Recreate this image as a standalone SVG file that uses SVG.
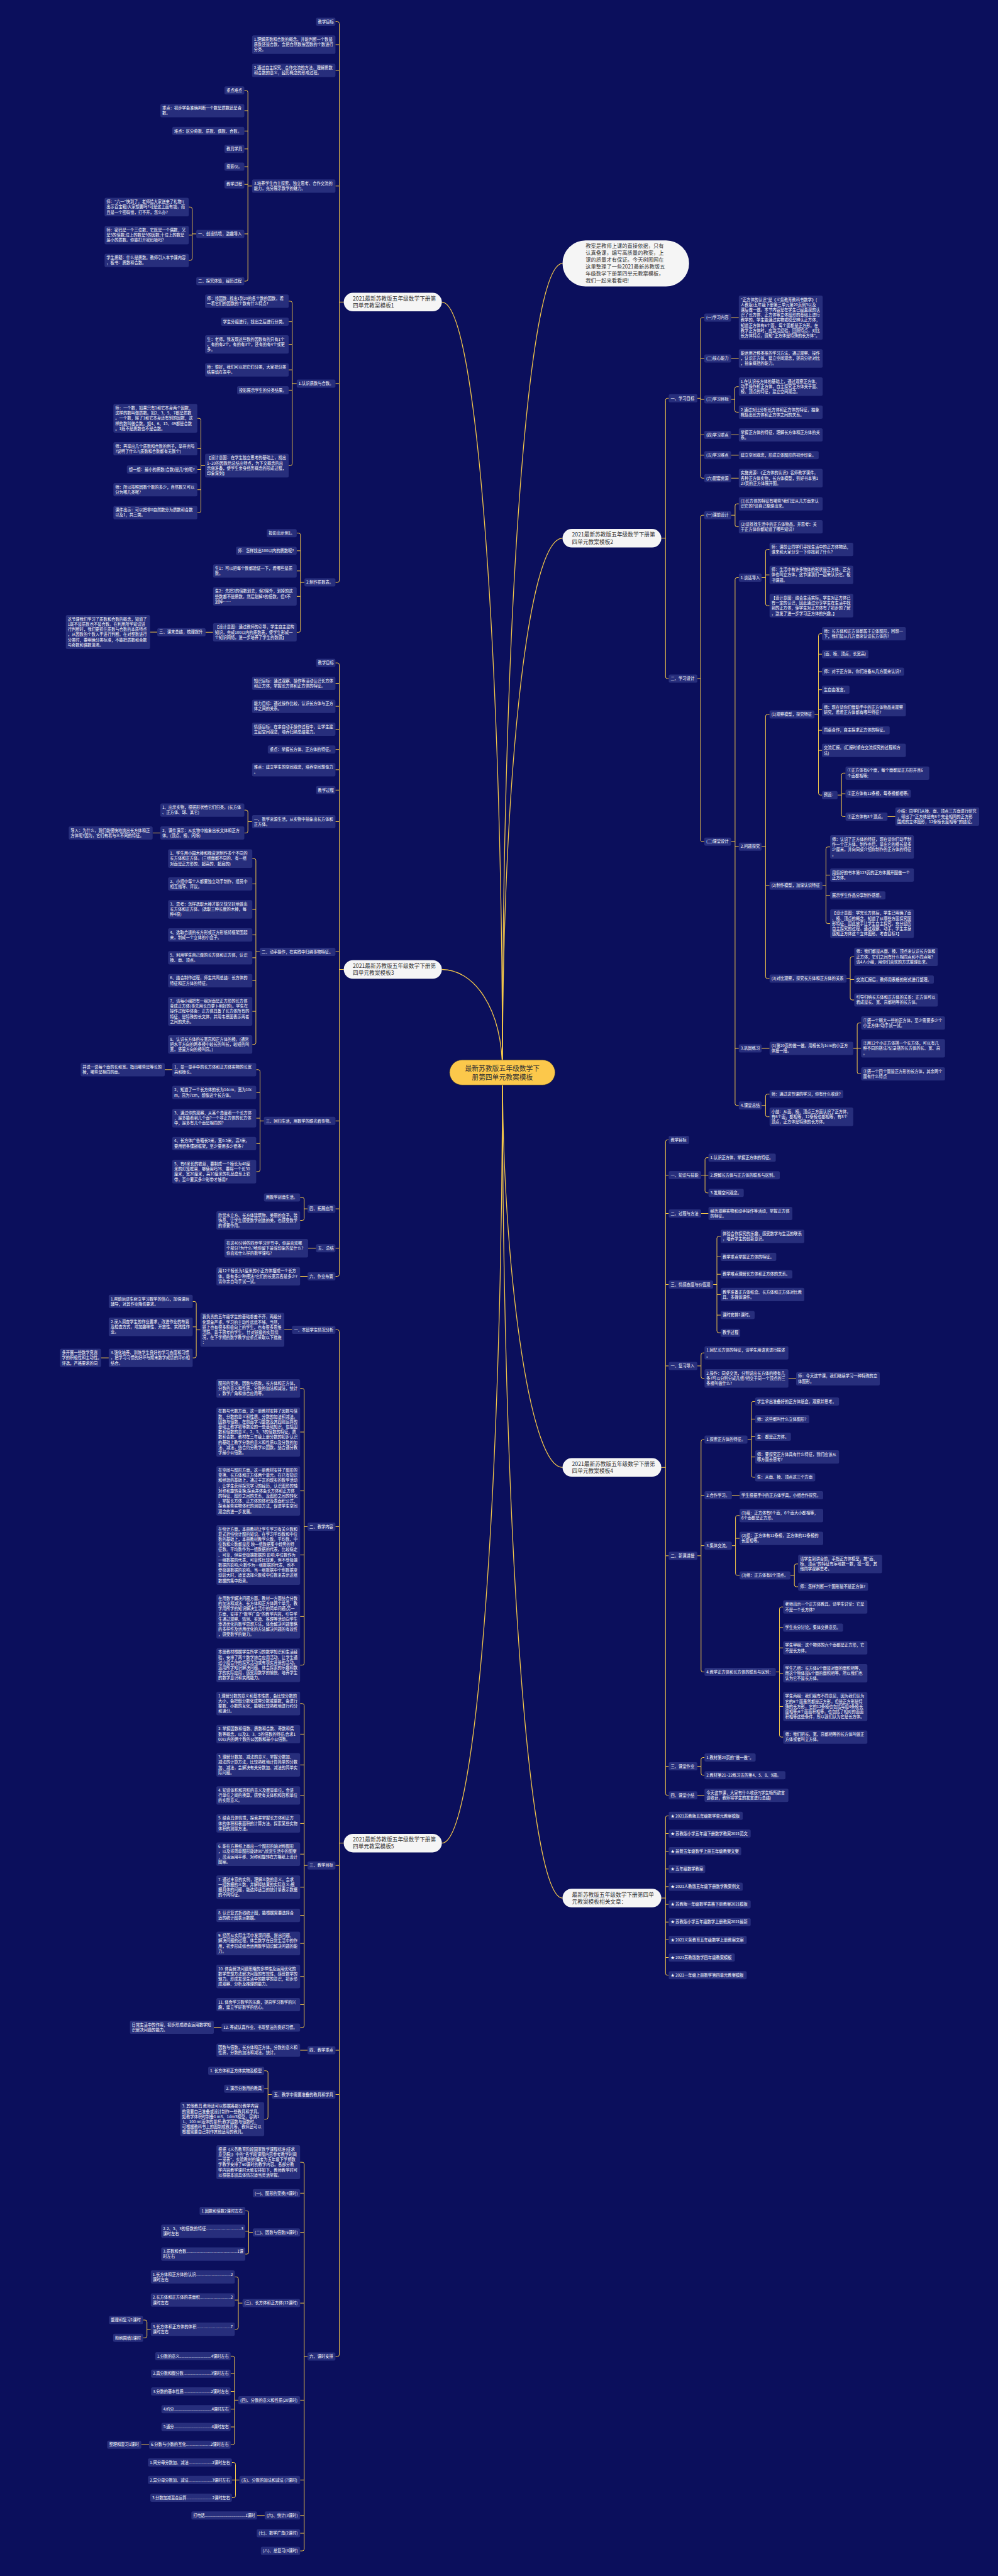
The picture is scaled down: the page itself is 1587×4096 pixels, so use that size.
<svg xmlns="http://www.w3.org/2000/svg" width="1587" height="4096" viewBox="0 0 1587 4096">
<style>
.n rect{fill:#272e7c}
.n text{fill:#fff;font-size:6.3px;font-family:"Noto Sans CJK SC","Noto Sans",sans-serif}
.m rect{fill:#f5f5f5}
.m text{fill:#333;font-size:8.7px;font-family:"Noto Sans CJK SC","Noto Sans",sans-serif}
.c path{fill:none;stroke:#f5c84a;stroke-width:1}
.c .t{stroke-width:1.3}
</style>
<rect width="1587" height="4096" fill="#0b0f5c"/>
<g class="c" id="connectors">
<path class="t" d="M702.6 480.3C762 480.3 799 1100 799 1705"/>
<path class="t" d="M702.6 1541.5C752 1541.5 799 1600 799 1705"/>
<path class="t" d="M894.5 418.9C838 418.9 799 1000 799 1705"/>
<path class="t" d="M894.5 855.8C838 855.8 799 1250 799 1705"/>
<path class="t" d="M702.6 2930.7C762 2930.7 799 2300 799 1705"/>
<path class="t" d="M894.5 2333.3C840 2333.3 799 2000 799 1705"/>
<path class="t" d="M894.5 3018C838 3018 799 2400 799 1705"/>
<path d="M546.6 480.3H539.5M533.4 34.5H536.5Q539.5 34.5 539.5 37.5V923.1Q539.5 926.1 536.5 926.1H533.4M539.5 71H533.4M539.5 111.9H533.4M539.5 295.8H533.4M539.5 609.9H533.4"/>
<path d="M400.8 295.8H394.2M388.5 143.8H391.2Q394.2 143.8 394.2 146.8V444Q394.2 447 391.2 447H388.5M394.2 176H388.5M394.2 208.3H388.5M394.2 236.8H388.5M394.2 265.1H388.5M394.2 293.2H388.5M394.2 371.9H388.5"/>
<path d="M312.1 371.9H305.5M300.2 329.2H302.5Q305.5 329.2 305.5 332.2V411.1Q305.5 414.1 302.5 414.1H300.2M305.5 373.9H300.2"/>
<path d="M471.8 609.9H464.6M459.1 478.9H461.6Q464.6 478.9 464.6 481.9V737.4Q464.6 740.4 461.6 740.4H459.1M464.6 511.6H459.1M464.6 547.6H459.1M464.6 588.1H459.1M464.6 620.4H459.1"/>
<path d="M326.1 740.4H319.5M313.7 665.2H316.5Q319.5 665.2 319.5 668.2V812.1Q319.5 815.1 316.5 815.1H313.7M319.5 713.5H313.7M319.5 746.5H313.7M319.5 778.7H313.7"/>
<path d="M484.1 926.1H477.8M471.8 847.7H474.8Q477.8 847.7 477.8 850.7V1002.4Q477.8 1005.4 474.8 1005.4H471.8M477.8 875.8H471.8M477.8 907.8H471.8M477.8 948.3H471.8"/>
<path d="M338.8 1005.3H326.9M250.1 1005.1H238.6"/>
<path d="M546.6 1541.5H539.5M533.4 1054.1H536.5Q539.5 1054.1 539.5 1057.1V2026.5Q539.5 2029.5 536.5 2029.5H533.4M539.5 1086.5H533.4M539.5 1123.1H533.4M539.5 1159.5H533.4M539.5 1191.7H533.4M539.5 1223.9H533.4M539.5 1256.3H533.4M539.5 1306.5H533.4M539.5 1513.5H533.4M539.5 1782.3H533.4M539.5 1922.1H533.4M539.5 1984.8H533.4"/>
<path d="M400.8 1306.5H394.2M388.5 1288.1H391.2Q394.2 1288.1 394.2 1291.1V1321.5Q394.2 1324.5 391.2 1324.5H388.5M255 1324.5H242.7"/>
<path d="M413.1 1513.5H406.9M401.2 1365.2H403.9Q406.9 1365.2 406.9 1368.2V1657.7Q406.9 1660.7 403.9 1660.7H401.2M406.9 1405.5H401.2M406.9 1446H401.2M406.9 1486.6H401.2M406.9 1522.9H401.2M406.9 1559.3H401.2M406.9 1608.1H401.2"/>
<path d="M419.7 1782.3H413.5M407.4 1700.8H410.5Q413.5 1700.8 413.5 1703.8V1860Q413.5 1863 410.5 1863H407.4M413.5 1737.2H407.4M413.5 1778H407.4M413.5 1818.3H407.4M273.9 1700.8H262"/>
<path d="M489.1 1922.1H483.7M477.2 1904.1H480.7Q483.7 1904.1 483.7 1907.1V1937.5Q483.7 1940.5 480.7 1940.5H477.2M502.6 1984.8H489.9M489.1 2029.5H477.2"/>
<path d="M546.6 2930.7H539.5M533.4 2114.4H536.5Q539.5 2114.4 539.5 2117.4V3744Q539.5 3747 536.5 3747H533.4M539.5 2427.5H533.4M539.5 2966.2H533.4M539.5 3260H533.4M539.5 3330.5H533.4"/>
<path d="M464.4 2114.5H452.1M318.7 2114.6H312.1M306.4 2069.4H309.1Q312.1 2069.4 312.1 2072.4V2156.1Q312.1 2159.1 309.1 2159.1H306.4M312.1 2109.8H306.4M172.9 2159.1H160.6"/>
<path d="M489.1 2427.5H483.7M477.2 2207.7H480.7Q483.7 2207.7 483.7 2210.7V2644.7Q483.7 2647.7 480.7 2647.7H477.2M483.7 2277H477.2M483.7 2370.6H477.2M483.7 2472.4H477.2M483.7 2570.4H477.2"/>
<path d="M489.1 2966.2H483.7M477.2 2708.8H480.7Q483.7 2708.8 483.7 2711.8V3220.9Q483.7 3223.9 480.7 3223.9H477.2M483.7 2757.4H477.2M483.7 2806.3H477.2M483.7 2854.9H477.2M483.7 2899.4H477.2M483.7 2948.2H477.2M483.7 3000.8H477.2M483.7 3045.6H477.2M483.7 3090.2H477.2M483.7 3142.8H477.2M483.7 3187.5H477.2M352.3 3223.7H340M489.1 3260H477.2"/>
<path d="M432.4 3330.5H426.2M420.1 3292.7H423.2Q426.2 3292.7 426.2 3295.7V3366.6Q426.2 3369.6 423.2 3369.6H420.1M426.2 3321.2H420.1"/>
<path d="M489.1 3747H483.7M477.2 3438.1H480.7Q483.7 3438.1 483.7 3441.1V4053.1Q483.7 4056.1 480.7 4056.1H477.2M483.7 3487.3H477.2M483.7 3549.7H477.2M483.7 3662.1H477.2M483.7 3816.4H477.2M483.7 3943.3H477.2M483.7 3999.8H477.2M483.7 4028H477.2"/>
<path d="M402 3549.7H395.5M390.1 3515.4H392.5Q395.5 3515.4 395.5 3518.4V3581.1Q395.5 3584.1 392.5 3584.1H390.1M395.5 3547.8H390.1"/>
<path d="M385.6 3662.1H379M373.3 3620.5H376Q379 3620.5 379 3623.5V3700.6Q379 3703.6 376 3703.6H373.3M379 3657.2H373.3"/>
<path d="M239.8 3703.6H233.7M227.5 3689H230.7Q233.7 3689 233.7 3692V3714.3Q233.7 3717.3 230.7 3717.3H227.5"/>
<path d="M379 3816.4H372.9M366.7 3746.4H369.9Q372.9 3746.4 372.9 3749.4V3884.2Q372.9 3887.2 369.9 3887.2H366.7M372.9 3774.2H366.7M372.9 3802.5H366.7M372.9 3830.7H366.7M372.9 3859H366.7M237 3887.2H224.6"/>
<path d="M380.7 3943.3H374.5M368.8 3915.5H371.5Q374.5 3915.5 374.5 3918.5V3968.5Q374.5 3971.5 371.5 3971.5H368.8M374.5 3943.3H368.8M420.9 3999.8H408.6"/>
<path d="M1051.6 855.8H1058.3M1063.4 633.3H1061.3Q1058.3 633.3 1058.3 636.3V1076Q1058.3 1079 1061.3 1079H1063.4"/>
<path d="M1108.9 633.3H1114M1119.9 505.1H1117Q1114 505.1 1114 508.1V757.3Q1114 760.3 1117 760.3H1119.9M1114 570H1119.9M1114 635.1H1119.9M1114 691.5H1119.9M1114 723.8H1119.9"/>
<path d="M1162.5 505.1H1174.8M1162.5 570H1174.8M1162.5 691.5H1174.8M1162.5 723.8H1174.8M1162.5 760.3H1174.8"/>
<path d="M1162.5 635.1H1168.5M1174.8 614.8H1171.5Q1168.5 614.8 1168.5 617.8V652.4Q1168.5 655.4 1171.5 655.4H1174.8"/>
<path d="M1108.9 1079H1114M1119.9 819.2H1117Q1114 819.2 1114 822.2V1335.2Q1114 1338.2 1117 1338.2H1119.9"/>
<path d="M1162.5 819.2H1168.9M1174.8 801.1H1171.9Q1168.9 801.1 1168.9 804.1V834.6Q1168.9 837.6 1171.9 837.6H1174.8"/>
<path d="M1162.5 1338.2H1168.9M1174.8 918.5H1171.9Q1168.9 918.5 1168.9 921.5V1754.8Q1168.9 1757.8 1171.9 1757.8H1174.8M1168.9 1346.2H1174.8M1168.9 1667H1174.8"/>
<path d="M1211.1 918.5H1217.4M1223.7 873.6H1220.4Q1217.4 873.6 1217.4 876.6V960Q1217.4 963 1220.4 963H1223.7M1217.4 914.1H1223.7"/>
<path d="M1211.1 1346.2H1217.4M1223.7 1136H1220.4Q1217.4 1136 1217.4 1139V1552.9Q1217.4 1555.9 1220.4 1555.9H1223.7M1217.4 1408.2H1223.7"/>
<path d="M1295.2 1136H1301.5M1307 1007.6H1304.5Q1301.5 1007.6 1301.5 1010.6V1261.2Q1301.5 1264.2 1304.5 1264.2H1307M1301.5 1040.2H1307M1301.5 1068H1307M1301.5 1096.7H1307M1301.5 1128.5H1307M1301.5 1161.2H1307M1301.5 1193.2H1307"/>
<path d="M1331.9 1264.2H1338.2M1344.5 1229.3H1341.2Q1338.2 1229.3 1338.2 1232.3V1295.5Q1338.2 1298.5 1341.2 1298.5H1344.5M1338.2 1262.1H1344.5M1411.3 1298.5H1423.7"/>
<path d="M1307.8 1408.2H1313.4M1320.1 1346.7H1316.4Q1313.4 1346.7 1313.4 1349.7V1465.6Q1313.4 1468.6 1316.4 1468.6H1320.1M1313.4 1391.4H1320.1M1313.4 1423.8H1320.1"/>
<path d="M1346.1 1555.9H1352M1358.4 1521.4H1355Q1352 1521.4 1352 1524.4V1587Q1352 1590 1355 1590H1358.4M1352 1557.4H1358.4"/>
<path d="M1211.1 1667H1223.7M1356.8 1667H1363.1M1369.4 1626.6H1366.1Q1363.1 1626.6 1363.1 1629.6V1704.5Q1363.1 1707.5 1366.1 1707.5H1369.4M1363.1 1666.9H1369.4"/>
<path d="M1211.1 1757.8H1217.4M1223.7 1739.8H1220.4Q1217.4 1739.8 1217.4 1742.8V1772.7Q1217.4 1775.7 1220.4 1775.7H1223.7"/>
<path d="M1051.6 2333.3H1058.3M1063.4 1812.5H1061.3Q1058.3 1812.5 1058.3 1815.5V2851.7Q1058.3 2854.7 1061.3 2854.7H1063.4M1058.3 1868.6H1063.4M1058.3 1929.5H1063.4M1058.3 2042.5H1063.4M1058.3 2171.9H1063.4M1058.3 2473.8H1063.4M1058.3 2808.6H1063.4"/>
<path d="M1114.8 1868.6H1121.1M1126.6 1840.7H1124.1Q1121.1 1840.7 1121.1 1843.7V1893.8Q1121.1 1896.8 1124.1 1896.8H1126.6M1121.1 1868.8H1126.6M1114.8 1929.5H1126.6"/>
<path d="M1134.1 2042.5H1140M1146 1965.8H1143Q1140 1965.8 1140 1968.8V2116.2Q1140 2119.2 1143 2119.2H1146M1140 1998.5H1146M1140 2026.2H1146M1140 2058.4H1146M1140 2091.1H1146"/>
<path d="M1108.9 2171.9H1114.8M1120.3 2151.2H1117.8Q1114.8 2151.2 1114.8 2154.2V2188.8Q1114.8 2191.8 1117.8 2191.8H1120.3M1253.7 2192H1266"/>
<path d="M1108.9 2473.8H1114.8M1120.3 2289.1H1117.8Q1114.8 2289.1 1114.8 2292.1V2655.5Q1114.8 2658.5 1117.8 2658.5H1120.3M1114.8 2377.6H1120.3M1114.8 2457.7H1120.3"/>
<path d="M1188.6 2289.1H1194.9M1200.8 2228.4H1197.9Q1194.9 2228.4 1194.9 2231.4V2346Q1194.9 2349 1197.9 2349H1200.8M1194.9 2256.4H1200.8M1194.9 2284.5H1200.8M1194.9 2316.7H1200.8M1163.7 2377.6H1176"/>
<path d="M1163.7 2457.7H1169.6M1176 2409.8H1172.6Q1169.6 2409.8 1169.6 2412.8V2501.9Q1169.6 2504.9 1172.6 2504.9H1176M1169.6 2446.1H1176"/>
<path d="M1256.9 2504.9H1263.2M1269.2 2486.8H1266.2Q1263.2 2486.8 1263.2 2489.8V2520Q1263.2 2523 1266.2 2523H1269.2"/>
<path d="M1233.6 2658.5H1239.5M1245.4 2555.2H1242.5Q1239.5 2555.2 1239.5 2558.2V2759.1Q1239.5 2762.1 1242.5 2762.1H1245.4M1239.5 2587.9H1245.4M1239.5 2620.2H1245.4M1239.5 2660.6H1245.4M1239.5 2713.5H1245.4"/>
<path d="M1108.9 2808.6H1114.8M1120.3 2794.5H1117.8Q1114.8 2794.5 1114.8 2797.5V2819.7Q1114.8 2822.7 1117.8 2822.7H1120.3M1108.9 2854.7H1120.3"/>
<path d="M1051.6 3018H1058.3M1063.4 2887.3H1061.3Q1058.3 2887.3 1058.3 2890.3V3137.7Q1058.3 3140.7 1061.3 3140.7H1063.4M1058.3 2915.5H1063.4M1058.3 2943.6H1063.4M1058.3 2971.8H1063.4M1058.3 2999.9H1063.4M1058.3 3028.1H1063.4M1058.3 3056.2H1063.4M1058.3 3084.4H1063.4M1058.3 3112.5H1063.4"/>
</g>
<g id="root"><rect x="714.9" y="1685.3" width="167.8" height="40" rx="20" fill="#fcc84b" stroke="#2a2a2a" stroke-width="0.6"/><text x="798.8" y="1702.5" text-anchor="middle" font-size="10.8" fill="#333" font-family="Noto Sans CJK SC,Noto Sans,sans-serif">最新苏教版五年级数学下<tspan x="798.8" dy="14.9">册第四单元教案模板</tspan></text></g>
<g id="intro" class="m"><rect x="894.5" y="382.2" width="201.3" height="73.4" rx="36.7"/><text x="931.2" y="394.4" style="font-size:8.3px">教案是教师上课的直接依据，只有<tspan x="931.2" dy="10.9">认真备课，编写高质量的教案，上</tspan><tspan x="931.2" dy="10.9">课的质量才有保证。今天树图网在</tspan><tspan x="931.2" dy="10.9">这里整理了一些2021最新苏教版五</tspan><tspan x="931.2" dy="10.9">年级数学下册第四单元教案模板，</tspan><tspan x="931.2" dy="10.9">我们一起来看看吧!</tspan></text></g>
<g id="L1" class="m"><rect x="546.6" y="465.6" width="156" height="29.4" rx="14.7"/><text x="561" y="477.9">2021最新苏教版五年级数学下册第<tspan x="561" dy="11.1">四单元教案模板1</tspan></text></g>
<g id="L3" class="m"><rect x="546.6" y="1526.8" width="156" height="29.4" rx="14.7"/><text x="561" y="1539.1">2021最新苏教版五年级数学下册第<tspan x="561" dy="11.1">四单元教案模板3</tspan></text></g>
<g id="L5" class="m"><rect x="546.6" y="2916" width="156" height="29.4" rx="14.7"/><text x="561" y="2928.3">2021最新苏教版五年级数学下册第<tspan x="561" dy="11.1">四单元教案模板5</tspan></text></g>
<g id="R2" class="m"><rect x="894.5" y="841.1" width="157.1" height="29.4" rx="14.7"/><text x="909.5" y="853.4">2021最新苏教版五年级数学下册第<tspan x="909.5" dy="11.1">四单元教案模板2</tspan></text></g>
<g id="R4" class="m"><rect x="894.5" y="2318.6" width="157.1" height="29.4" rx="14.7"/><text x="909.5" y="2330.9">2021最新苏教版五年级数学下册第<tspan x="909.5" dy="11.1">四单元教案模板4</tspan></text></g>
<g id="Rel" class="m"><rect x="894.5" y="3003.3" width="157.1" height="29.4" rx="14.7"/><text x="909.5" y="3015.6">最新苏教版五年级数学下册第四单<tspan x="909.5" dy="11.1">元教案模板相关文章：</tspan></text></g>
<g id="n1" class="n"><rect x="502.6" y="28" width="30.8" height="13" rx="2.5"/><text x="505.6" y="36.7">教学目标</text></g>
<g id="n2" class="n"><rect x="400.8" y="56.3" width="132.6" height="29.4" rx="2.5"/><text x="403.8" y="65">1.理解质数和合数的概念，并能判断一个数是<tspan x="403.8" dy="8.2">质数还是合数，会把自然数按因数的个数进行</tspan><tspan x="403.8" dy="8.2">分类。</tspan></text></g>
<g id="n3" class="n"><rect x="400.8" y="101.3" width="132.6" height="21.2" rx="2.5"/><text x="403.8" y="110">2.通过自主探究、合作交流的方法，理解质数<tspan x="403.8" dy="8.2">和合数的意义，经历概念的形成过程。</tspan></text></g>
<g id="n4" class="n"><rect x="400.8" y="285.2" width="132.6" height="21.2" rx="2.5"/><text x="403.8" y="293.9">3.培养学生自主探索、独立思考、合作交流的<tspan x="403.8" dy="8.2">能力，充分展示数学的魅力。</tspan></text></g>
<g id="n5" class="n"><rect x="471.8" y="603.4" width="61.6" height="13" rx="2.5"/><text x="474.8" y="612.1">1.认识质数与合数。</text></g>
<g id="n6" class="n"><rect x="484.1" y="919.6" width="49.3" height="13" rx="2.5"/><text x="487.1" y="928.3">2.制作质数表。</text></g>
<g id="n7" class="n"><rect x="356.9" y="137.3" width="31.6" height="13" rx="2.5"/><text x="359.9" y="146">重点难点</text></g>
<g id="n8" class="n"><rect x="255" y="165.4" width="133.5" height="21.2" rx="2.5"/><text x="258" y="174.1">重点：初步学会准确判断一个数是质数还是合<tspan x="258" dy="8.2">数。</tspan></text></g>
<g id="n9" class="n"><rect x="273.9" y="201.8" width="114.6" height="13" rx="2.5"/><text x="276.9" y="210.5">难点：区分奇数、质数、偶数、合数。</text></g>
<g id="n10" class="n"><rect x="356.9" y="230.3" width="31.6" height="13" rx="2.5"/><text x="359.9" y="239">教具学具</text></g>
<g id="n11" class="n"><rect x="356.9" y="258.6" width="31.6" height="13" rx="2.5"/><text x="359.9" y="267.3">投影仪。</text></g>
<g id="n12" class="n"><rect x="356.9" y="286.7" width="31.6" height="13" rx="2.5"/><text x="359.9" y="295.4">教学过程</text></g>
<g id="n13" class="n"><rect x="312.1" y="365.4" width="76.4" height="13" rx="2.5"/><text x="315.1" y="374.1">一、创设情境，激趣导入</text></g>
<g id="n14" class="n"><rect x="312.1" y="440.5" width="76.4" height="13" rx="2.5"/><text x="315.1" y="449.2">二、探究体验，经历过程</text></g>
<g id="n15" class="n"><rect x="166.3" y="314.5" width="133.9" height="29.4" rx="2.5"/><text x="169.3" y="323.2">师："六一"快到了，老师给大家送来了礼物!(<tspan x="169.3" dy="8.2">出示百宝箱)大家想要吗?可是这上面有锁，而</tspan><tspan x="169.3" dy="8.2">且是一个密码锁，打不开，怎么办?</tspan></text></g>
<g id="n16" class="n"><rect x="166.3" y="359.2" width="133.9" height="29.4" rx="2.5"/><text x="169.3" y="367.9">师：密码是一个三位数，它既是一个偶数，又<tspan x="169.3" dy="8.2">是5的倍数;位上的数是9的因数;十位上的数是</tspan><tspan x="169.3" dy="8.2">最小的质数。你能打开密码锁吗?</tspan></text></g>
<g id="n17" class="n"><rect x="166.3" y="403.5" width="133.9" height="21.2" rx="2.5"/><text x="169.3" y="412.2">学生质疑：什么是质数。教师引入本节课内容<tspan x="169.3" dy="8.2">，板书：质数和合数。</tspan></text></g>
<g id="n18" class="n"><rect x="326.1" y="468.3" width="133" height="21.2" rx="2.5"/><text x="329.1" y="477">师：找因数--找出1到20的各个数的因数，看<tspan x="329.1" dy="8.2">一看它们的因数的个数有什么特点?</tspan></text></g>
<g id="n19" class="n"><rect x="351.5" y="505.1" width="107.6" height="13" rx="2.5"/><text x="354.5" y="513.8">学生分组进行，找出之后进行分类。</text></g>
<g id="n20" class="n"><rect x="326.1" y="532.9" width="133" height="29.4" rx="2.5"/><text x="329.1" y="541.6">生：老师，我发现这些数的因数有的只有1个<tspan x="329.1" dy="8.2">，有的有2个，有的有3个，还有的有4个或更</tspan><tspan x="329.1" dy="8.2">多。</tspan></text></g>
<g id="n21" class="n"><rect x="326.1" y="577.5" width="133" height="21.2" rx="2.5"/><text x="329.1" y="586.2">师：很好，我们可以把它们分类，大家把分类<tspan x="329.1" dy="8.2">结果填在表中。</tspan></text></g>
<g id="n22" class="n"><rect x="377" y="613.9" width="82.1" height="13" rx="2.5"/><text x="380" y="622.6">投影展示学生的分类结果。</text></g>
<g id="n23" class="n"><rect x="326.1" y="721.6" width="133" height="37.6" rx="2.5"/><text x="329.1" y="730.3">【设计意图：在学生独立思考的基础上，找出<tspan x="329.1" dy="8.2">1~20的因数后总结出特点，为下文概念的出</tspan><tspan x="329.1" dy="8.2">示做准备，使学生亲身经历概念的形成过程，</tspan><tspan x="329.1" dy="8.2">印象深刻】</tspan></text></g>
<g id="n24" class="n"><rect x="180.3" y="642.3" width="133.4" height="45.8" rx="2.5"/><text x="183.3" y="651">师：一个数，如果只有1和它本身两个因数，<tspan x="183.3" dy="8.2">这样的数叫做质数。如2、3、5、7都是质数</tspan><tspan x="183.3" dy="8.2">。一个数，除了1和它本身还有别的因数，这</tspan><tspan x="183.3" dy="8.2">样的数叫做合数。如4、6、15、49都是合数</tspan><tspan x="183.3" dy="8.2">。1既不是质数也不是合数。</tspan></text></g>
<g id="n25" class="n"><rect x="180.3" y="702.9" width="133.4" height="21.2" rx="2.5"/><text x="183.3" y="711.6">师：再举出几个质数和合数的例子，举得完吗<tspan x="183.3" dy="8.2">?说明了什么?(质数和合数都有无数个)</tspan></text></g>
<g id="n26" class="n"><rect x="201.7" y="740" width="112" height="13" rx="2.5"/><text x="204.7" y="748.7">想一想：最小的质数(合数)是几?的呢?</text></g>
<g id="n27" class="n"><rect x="180.3" y="768.1" width="133.4" height="21.2" rx="2.5"/><text x="183.3" y="776.8">师：所以按照因数个数的多少，自然数又可以<tspan x="183.3" dy="8.2">分为哪几类呢?</tspan></text></g>
<g id="n28" class="n"><rect x="180.3" y="804.5" width="133.4" height="21.2" rx="2.5"/><text x="183.3" y="813.2">课件出示：可以把非0自然数分为质数和合数<tspan x="183.3" dy="8.2">以及1，共三类。</tspan></text></g>
<g id="n29" class="n"><rect x="424.2" y="841.2" width="47.6" height="13" rx="2.5"/><text x="427.2" y="849.9">投影出示例1。</text></g>
<g id="n30" class="n"><rect x="375.3" y="869.3" width="96.5" height="13" rx="2.5"/><text x="378.3" y="878">师：怎样找出100以内的质数呢?</text></g>
<g id="n31" class="n"><rect x="338.8" y="897.2" width="133" height="21.2" rx="2.5"/><text x="341.8" y="905.9">生1：可以把每个数都验证一下，看哪些是质<tspan x="341.8" dy="8.2">数。</tspan></text></g>
<g id="n32" class="n"><rect x="338.8" y="933.6" width="133" height="29.4" rx="2.5"/><text x="341.8" y="942.3">生2：先把2的倍数划去，但2除外，划掉的这<tspan x="341.8" dy="8.2">些数都不是质数。然后划掉3的倍数，但3不</tspan><tspan x="341.8" dy="8.2">划掉……</tspan></text></g>
<g id="n33" class="n"><rect x="338.8" y="990.7" width="133" height="29.4" rx="2.5"/><text x="341.8" y="999.4">【设计意图：通过教师的引导，学生自主建构<tspan x="341.8" dy="8.2">知识，完成100以内的质数表，使学生形成一</tspan><tspan x="341.8" dy="8.2">个知识网络，进一步培养了学生的数感】</tspan></text></g>
<g id="n34" class="n"><rect x="250.1" y="998.7" width="76.8" height="13" rx="2.5"/><text x="253.1" y="1007.4">三、课末总结，梳理提升</text></g>
<g id="n35" class="n"><rect x="104.7" y="978" width="133.9" height="54" rx="2.5"/><text x="107.7" y="986.7">这节课我们学习了质数和合数的概念，知道了<tspan x="107.7" dy="8.2">1既不是质数也不是合数。在利用所学知识进</tspan><tspan x="107.7" dy="8.2">行判断时，我们要抓住质数与合数的本质特点</tspan><tspan x="107.7" dy="8.2">，从因数的个数入手进行判断。在对整数进行</tspan><tspan x="107.7" dy="8.2">分类时，要明确分类标准，不能把质数和合数</tspan><tspan x="107.7" dy="8.2">与奇数和偶数混淆。</tspan></text></g>
<g id="n36" class="n"><rect x="502.6" y="1047.6" width="30.8" height="13" rx="2.5"/><text x="505.6" y="1056.3">教学目标</text></g>
<g id="n37" class="n"><rect x="400.8" y="1075.9" width="132.6" height="21.2" rx="2.5"/><text x="403.8" y="1084.6">知识目标：通过观察、操作等活动认识长方体<tspan x="403.8" dy="8.2">和正方体，掌握长方体和正方体的特征。</tspan></text></g>
<g id="n38" class="n"><rect x="400.8" y="1112.5" width="132.6" height="21.2" rx="2.5"/><text x="403.8" y="1121.2">能力目标：通过操作比较，认识长方体与正方<tspan x="403.8" dy="8.2">体之间的关系。</tspan></text></g>
<g id="n39" class="n"><rect x="400.8" y="1148.9" width="132.6" height="21.2" rx="2.5"/><text x="403.8" y="1157.6">情感目标：在亲自动手操作过程中，让学生建<tspan x="403.8" dy="8.2">立起空间观念，培养归纳总结能力。</tspan></text></g>
<g id="n40" class="n"><rect x="425.8" y="1185.2" width="107.6" height="13" rx="2.5"/><text x="428.8" y="1193.9">重点：掌握长方体、正方体的特征。</text></g>
<g id="n41" class="n"><rect x="400.8" y="1213.3" width="132.6" height="21.2" rx="2.5"/><text x="403.8" y="1222">难点：建立学生的空间观念，培养空间想像力<tspan x="403.8" dy="8.2">。</tspan></text></g>
<g id="n42" class="n"><rect x="502.6" y="1249.8" width="30.8" height="13" rx="2.5"/><text x="505.6" y="1258.5">教学过程</text></g>
<g id="n43" class="n"><rect x="400.8" y="1295.9" width="132.6" height="21.2" rx="2.5"/><text x="403.8" y="1304.6">一、数学来源生活，从实物中抽象出长方体和<tspan x="403.8" dy="8.2">正方体。</tspan></text></g>
<g id="n44" class="n"><rect x="413.1" y="1507" width="120.3" height="13" rx="2.5"/><text x="416.1" y="1515.7">二、动手操作，在实践中归纳事物特征。</text></g>
<g id="n45" class="n"><rect x="419.7" y="1775.8" width="113.7" height="13" rx="2.5"/><text x="422.7" y="1784.5">三、回归生活，用数学的眼光看事物。</text></g>
<g id="n46" class="n"><rect x="489.1" y="1915.6" width="44.3" height="13" rx="2.5"/><text x="492.1" y="1924.3">四、拓展应用</text></g>
<g id="n47" class="n"><rect x="502.6" y="1978.3" width="30.8" height="13" rx="2.5"/><text x="505.6" y="1987">五、总结</text></g>
<g id="n48" class="n"><rect x="489.1" y="2023" width="44.3" height="13" rx="2.5"/><text x="492.1" y="2031.7">六、作业布置</text></g>
<g id="n49" class="n"><rect x="255" y="1277.5" width="133.5" height="21.2" rx="2.5"/><text x="258" y="1286.2">1、出示实物，根据形状给它们归类。(长方体<tspan x="258" dy="8.2">、正方体、球、其它)</tspan></text></g>
<g id="n50" class="n"><rect x="255" y="1313.9" width="133.5" height="21.2" rx="2.5"/><text x="258" y="1322.6">2、课件演示：从实物中抽象出长文体和正方<tspan x="258" dy="8.2">体。(顶点、棱、闪烁)</tspan></text></g>
<g id="n51" class="n"><rect x="109.3" y="1313.9" width="133.4" height="21.2" rx="2.5"/><text x="112.3" y="1322.6">导入：为什么，我们能很快地挑出长方体和正<tspan x="112.3" dy="8.2">方体呢?因为，它们有着与众不同的特征。</tspan></text></g>
<g id="n52" class="n"><rect x="267.3" y="1350.5" width="133.9" height="29.4" rx="2.5"/><text x="270.3" y="1359.2">1、学生用小圆木棒和橡皮泥制作多个不同的<tspan x="270.3" dy="8.2">长方体和正方体。(三组面都不同的、有一组</tspan><tspan x="270.3" dy="8.2">对面是正方形的、超高的、超扁的)</tspan></text></g>
<g id="n53" class="n"><rect x="267.3" y="1394.9" width="133.9" height="21.2" rx="2.5"/><text x="270.3" y="1403.6">2、小组中每个人都要独立动手制作，组员中<tspan x="270.3" dy="8.2">相互指导、评议。</tspan></text></g>
<g id="n54" class="n"><rect x="267.3" y="1431.3" width="133.9" height="29.4" rx="2.5"/><text x="270.3" y="1440">3、思考：怎样选取木棒才能又快又好地做出<tspan x="270.3" dy="8.2">长方体和正方体。(选取三种长度的木棒，每</tspan><tspan x="270.3" dy="8.2">种4根)</tspan></text></g>
<g id="n55" class="n"><rect x="267.3" y="1476" width="133.9" height="21.2" rx="2.5"/><text x="270.3" y="1484.7">4、选取合适的长方形或正方形纸将框架围起<tspan x="270.3" dy="8.2">来，制成一个立体的小盒子。</tspan></text></g>
<g id="n56" class="n"><rect x="267.3" y="1512.3" width="133.9" height="21.2" rx="2.5"/><text x="270.3" y="1521">5、利用学生自己做的长方体和正方体，认识<tspan x="270.3" dy="8.2">棱、面、顶点。</tspan></text></g>
<g id="n57" class="n"><rect x="267.3" y="1548.7" width="133.9" height="21.2" rx="2.5"/><text x="270.3" y="1557.4">6、结合制作过程，师生共同总结：长方体的<tspan x="270.3" dy="8.2">特征和正方体的特征。</tspan></text></g>
<g id="n58" class="n"><rect x="267.3" y="1585.2" width="133.9" height="45.8" rx="2.5"/><text x="270.3" y="1593.9">7、请每小组把有一组对面是正方形的长方体<tspan x="270.3" dy="8.2">变成正方体(事先用长白萝卜削好的)。学生在</tspan><tspan x="270.3" dy="8.2">操作过程中体会：正方体具备了长方体所有的</tspan><tspan x="270.3" dy="8.2">特征，是特殊的长文体，并用韦恩图表示两者</tspan><tspan x="270.3" dy="8.2">之间的关系。</tspan></text></g>
<g id="n59" class="n"><rect x="267.3" y="1646" width="133.9" height="29.4" rx="2.5"/><text x="270.3" y="1654.7">8、认识长方体的长宽高和正方体的棱。(通常<tspan x="270.3" dy="8.2">把水平方向的两条棱中较长的叫长，较短的叫</tspan><tspan x="270.3" dy="8.2">宽，竖直方向的棱叫高。)</tspan></text></g>
<g id="n60" class="n"><rect x="273.9" y="1690.2" width="133.5" height="21.2" rx="2.5"/><text x="276.9" y="1698.9">1、量一量手中的长方体和正方体实物的长宽<tspan x="276.9" dy="8.2">高和棱长。</tspan></text></g>
<g id="n61" class="n"><rect x="128.2" y="1690.2" width="133.8" height="21.2" rx="2.5"/><text x="131.2" y="1698.9">并说一说每个面的长和宽。指出哪些是等长的<tspan x="131.2" dy="8.2">棱，哪些是相同的面。</tspan></text></g>
<g id="n62" class="n"><rect x="273.9" y="1726.6" width="133.5" height="21.2" rx="2.5"/><text x="276.9" y="1735.3">2、知道了一个长方体的长为14cm，宽为10c<tspan x="276.9" dy="8.2">m，高为7cm，想像这个长方体。</tspan></text></g>
<g id="n63" class="n"><rect x="273.9" y="1763.3" width="133.5" height="29.4" rx="2.5"/><text x="276.9" y="1772">3、通过你的观察，从某个角度看一个长方体<tspan x="276.9" dy="8.2">，最多能看到几个面?一个非正方体的长方体</tspan><tspan x="276.9" dy="8.2">中，最多有几个面是相同的?</tspan></text></g>
<g id="n64" class="n"><rect x="273.9" y="1807.7" width="133.5" height="21.2" rx="2.5"/><text x="276.9" y="1816.4">4、长方体广告箱长5米，宽0.5米，高3米，<tspan x="276.9" dy="8.2">要用铝条镶嵌框架，至少要用多少铝条?</tspan></text></g>
<g id="n65" class="n"><rect x="273.9" y="1844.2" width="133.5" height="37.6" rx="2.5"/><text x="276.9" y="1852.9">5、有6米长的铁丝，要制成一个棱长为40厘<tspan x="276.9" dy="8.2">米的灯笼框架，够使用吗?6、要将一个长30</tspan><tspan x="276.9" dy="8.2">厘米，宽20厘米，高10厘米的礼品盒系上彩</tspan><tspan x="276.9" dy="8.2">带，至少要买多少彩带才够用?</tspan></text></g>
<g id="n66" class="n"><rect x="419.7" y="1897.6" width="57.5" height="13" rx="2.5"/><text x="422.7" y="1906.3">用数学创造生活。</text></g>
<g id="n67" class="n"><rect x="344.1" y="1925.8" width="133.1" height="29.4" rx="2.5"/><text x="347.1" y="1934.5">欣赏水立方、长方体建筑物、美丽的盒子、装<tspan x="347.1" dy="8.2">饰品，让学生感受数学创造的美，也感受数学</tspan><tspan x="347.1" dy="8.2">的重要作用。</tspan></text></g>
<g id="n68" class="n"><rect x="356.9" y="1970.1" width="133" height="29.4" rx="2.5"/><text x="359.9" y="1978.8">在这40分钟的四步学习环节中，你最喜欢哪<tspan x="359.9" dy="8.2">个部分?为什么?给你留下最深印象的是什么?</tspan><tspan x="359.9" dy="8.2">你喜欢什么样的数学课吗?</tspan></text></g>
<g id="n69" class="n"><rect x="344.1" y="2014.7" width="133.1" height="29.4" rx="2.5"/><text x="347.1" y="2023.4">用12个棱长为1厘米的小正方体摆成一个长方<tspan x="347.1" dy="8.2">体。能有多少种摆法?它们的长宽高各是多少?</tspan><tspan x="347.1" dy="8.2">请你亲自动手试一试。</tspan></text></g>
<g id="n70" class="n"><rect x="464.4" y="2107.9" width="69" height="13" rx="2.5"/><text x="467.4" y="2116.6">一、本班学生情况分析</text></g>
<g id="n71" class="n"><rect x="489.1" y="2421" width="44.3" height="13" rx="2.5"/><text x="492.1" y="2429.7">二、教学内容</text></g>
<g id="n72" class="n"><rect x="489.1" y="2959.7" width="44.3" height="13" rx="2.5"/><text x="492.1" y="2968.4">三、教学目标</text></g>
<g id="n73" class="n"><rect x="489.1" y="3253.5" width="44.3" height="13" rx="2.5"/><text x="492.1" y="3262.2">四、教学重点</text></g>
<g id="n74" class="n"><rect x="432.4" y="3324" width="101" height="13" rx="2.5"/><text x="435.4" y="3332.7">五、教学中需要准备的教具和学具</text></g>
<g id="n75" class="n"><rect x="489.1" y="3740.5" width="44.3" height="13" rx="2.5"/><text x="492.1" y="3749.2">六、课时安排</text></g>
<g id="n76" class="n"><rect x="318.7" y="2087.6" width="133.4" height="54" rx="2.5"/><text x="321.7" y="2096.3">我负责的五年级学生的基础参差不齐，两级分<tspan x="321.7" dy="8.2">化现象严重。学习的主动性远远不够。当然，</tspan><tspan x="321.7" dy="8.2">班上也有很多积极向上的学生，也有很多思维</tspan><tspan x="321.7" dy="8.2">活跃、善于思考的学生。 针对班级的实际情</tspan><tspan x="321.7" dy="8.2">况，在下学期的数学教学应重点采取以下措施</tspan><tspan x="321.7" dy="8.2">：</tspan></text></g>
<g id="n77" class="n"><rect x="172.9" y="2058.8" width="133.5" height="21.2" rx="2.5"/><text x="175.9" y="2067.5">1.帮助后进生树立学习数学的信心，加强课后<tspan x="175.9" dy="8.2">辅导，对其作业降低要求。</tspan></text></g>
<g id="n78" class="n"><rect x="172.9" y="2095.1" width="133.5" height="29.4" rx="2.5"/><text x="175.9" y="2103.8">2.深入调查学生的作业要求，改进作业的布置<tspan x="175.9" dy="8.2">及检查方式，增加趣味性、开放性、实践性作</tspan><tspan x="175.9" dy="8.2">业。</tspan></text></g>
<g id="n79" class="n"><rect x="172.9" y="2144.4" width="133.5" height="29.4" rx="2.5"/><text x="175.9" y="2153.1">3.强化培养、训练学生良好的学习态度和习惯<tspan x="175.9" dy="8.2">，把学习习惯的好坏与期末数学成绩的评价相</tspan><tspan x="175.9" dy="8.2">结合。</tspan></text></g>
<g id="n80" class="n"><rect x="95.5" y="2144.4" width="65.1" height="29.4" rx="2.5"/><text x="98.5" y="2153.1">多开展一些数学竞赛<tspan x="98.5" dy="8.2">学的积极性和主动性。</tspan><tspan x="98.5" dy="8.2">评选，严格要求的同</tspan></text></g>
<g id="n81" class="n"><rect x="344.1" y="2193" width="133.1" height="29.4" rx="2.5"/><text x="347.1" y="2201.7">图形的变换，因数与倍数，长方体和正方体，<tspan x="347.1" dy="8.2">分数的意义和性质，分数的加法和减法，统计</tspan><tspan x="347.1" dy="8.2">，数学广角和综合应用等。</tspan></text></g>
<g id="n82" class="n"><rect x="344.1" y="2237.7" width="133.1" height="78.6" rx="2.5"/><text x="347.1" y="2246.4">在数与代数方面，这一册教材安排了因数与倍<tspan x="347.1" dy="8.2">数、分数的意义和性质，分数的加法和减法。</tspan><tspan x="347.1" dy="8.2">因数与倍数，在前面学习整数及其四则运算的</tspan><tspan x="347.1" dy="8.2">基础上教学初等数论的一些基础知识，包括因</tspan><tspan x="347.1" dy="8.2">数和倍数的意义，2、5、3的倍数的特征，质</tspan><tspan x="347.1" dy="8.2">数和合数。教材在三年级上册分数的初步认识</tspan><tspan x="347.1" dy="8.2">的基础上教学分数的意义和性质以及分数的加</tspan><tspan x="347.1" dy="8.2">法、减法，结合约分教学公因数，结合通分教</tspan><tspan x="347.1" dy="8.2">学最小公倍数。</tspan></text></g>
<g id="n83" class="n"><rect x="344.1" y="2331.3" width="133.1" height="78.6" rx="2.5"/><text x="347.1" y="2340">在空间与图形方面，这一册教材安排了图形的<tspan x="347.1" dy="8.2">变换、长方体和正方体两个单元。在已有知识</tspan><tspan x="347.1" dy="8.2">和经验的基础上，通过丰富的现实的数学活动</tspan><tspan x="347.1" dy="8.2">，让学生获得探究学习的经历，认识图形的轴</tspan><tspan x="347.1" dy="8.2">对称和旋转变换;探索并体会长方体和正方体</tspan><tspan x="347.1" dy="8.2">的特征、图形之间的关系，及图形之间的转化</tspan><tspan x="347.1" dy="8.2">，掌握长方体、正方体的体积及表面积公式，</tspan><tspan x="347.1" dy="8.2">探索某些实物体积的测量方法，促进学生空间</tspan><tspan x="347.1" dy="8.2">观念的进一步发展。</tspan></text></g>
<g id="n84" class="n"><rect x="344.1" y="2424.9" width="133.1" height="95" rx="2.5"/><text x="347.1" y="2433.6">在统计方面，本册教材让学生学习有关众数和<tspan x="347.1" dy="8.2">复式折线统计图的知识。在学习平均数和中位</tspan><tspan x="347.1" dy="8.2">数的基础上，本册教材教学众数。平均数、中</tspan><tspan x="347.1" dy="8.2">位数和众数都是反 映一组数据集中趋势的特</tspan><tspan x="347.1" dy="8.2">征数。平均数作为一组数据的代表，比较稳定</tspan><tspan x="347.1" dy="8.2">、可靠，但易受极端数据的 影响;中位数作为</tspan><tspan x="347.1" dy="8.2">一组数据的代表，可靠性比较差，但不受极端</tspan><tspan x="347.1" dy="8.2">数据的影响;众数作为一组数据的代表，也不</tspan><tspan x="347.1" dy="8.2">受极端数据的影响。当一组数据中个别数据变</tspan><tspan x="347.1" dy="8.2">动较大时，适宜选择众数或中位数来表示这组</tspan><tspan x="347.1" dy="8.2">数据的集中趋势。</tspan></text></g>
<g id="n85" class="n"><rect x="344.1" y="2535.2" width="133.1" height="70.4" rx="2.5"/><text x="347.1" y="2543.9">在用数学解决问题方面，教材一方面结合分数<tspan x="347.1" dy="8.2">的加法和减法、长方体和正方体两个单元，教</tspan><tspan x="347.1" dy="8.2">学用所学的知识解决生活中的简单问题;另一</tspan><tspan x="347.1" dy="8.2">方面，安排了"数学广角"的教学内容，引导学</tspan><tspan x="347.1" dy="8.2">生通过观察、猜测、实验、推理等活动向学生</tspan><tspan x="347.1" dy="8.2">渗透优化的数学思想方法，体会解决问题策略</tspan><tspan x="347.1" dy="8.2">的多样性及运用优化的方法解决问题的有效性</tspan><tspan x="347.1" dy="8.2">，感受数学的魅力。</tspan></text></g>
<g id="n86" class="n"><rect x="344.1" y="2620.7" width="133.1" height="54" rx="2.5"/><text x="347.1" y="2629.4">本册教材根据学生所学习的数学知识和生活经<tspan x="347.1" dy="8.2">验，安排了两个数学综合应用活动，让学生通</tspan><tspan x="347.1" dy="8.2">过小组合作的探究活动或有现实背景的活动，</tspan><tspan x="347.1" dy="8.2">运用所学知识解决问题，体会探索的乐趣和数</tspan><tspan x="347.1" dy="8.2">学的实际应用，感受用数学的愉悦，培养学生</tspan><tspan x="347.1" dy="8.2">的数学意识和实践能力。</tspan></text></g>
<g id="n87" class="n"><rect x="344.1" y="2690" width="133.1" height="37.6" rx="2.5"/><text x="347.1" y="2698.7">1.理解分数的意义和基本性质，会比较分数的<tspan x="347.1" dy="8.2">大小，会把假分数化成带分数或整数，会进行</tspan><tspan x="347.1" dy="8.2">整数、小数的互化，能够比较熟练地进行约分</tspan><tspan x="347.1" dy="8.2">和通分。</tspan></text></g>
<g id="n88" class="n"><rect x="344.1" y="2742.7" width="133.1" height="29.4" rx="2.5"/><text x="347.1" y="2751.4">2. 掌握因数和倍数、质数和合数、奇数和偶<tspan x="347.1" dy="8.2">数等概念，以及2、3、5的倍数的特征;会求1</tspan><tspan x="347.1" dy="8.2">00以内的两个数的公因数和最小公倍数。</tspan></text></g>
<g id="n89" class="n"><rect x="344.1" y="2787.5" width="133.1" height="37.6" rx="2.5"/><text x="347.1" y="2796.2">3. 理解分数加、减法的意义，掌握分数加、<tspan x="347.1" dy="8.2">减法的计算方法，比较熟练地计算简单的分数</tspan><tspan x="347.1" dy="8.2">加、减法，会解决有关分数加、减法的简单实</tspan><tspan x="347.1" dy="8.2">际问题。</tspan></text></g>
<g id="n90" class="n"><rect x="344.1" y="2840.2" width="133.1" height="29.4" rx="2.5"/><text x="347.1" y="2848.9">4. 知道体积和容积的意义及度量单位，会进<tspan x="347.1" dy="8.2">行单位之间的换算，感受有关体积和容积单位</tspan><tspan x="347.1" dy="8.2">的实际意义。</tspan></text></g>
<g id="n91" class="n"><rect x="344.1" y="2884.7" width="133.1" height="29.4" rx="2.5"/><text x="347.1" y="2893.4">5. 结合具体情境，探索并掌握长方体和正方<tspan x="347.1" dy="8.2">体的体积和表面积的计算方法，探索某些实物</tspan><tspan x="347.1" dy="8.2">体积的测量方法。</tspan></text></g>
<g id="n92" class="n"><rect x="344.1" y="2929.4" width="133.1" height="37.6" rx="2.5"/><text x="347.1" y="2938.1">6. 能在方格纸上画出一个图形的轴对称图形<tspan x="347.1" dy="8.2">，以及将简单图形旋转90°;欣赏生活中的图案</tspan><tspan x="347.1" dy="8.2">，灵活运用平移、对称和旋转在方格纸上设计</tspan><tspan x="347.1" dy="8.2">图案。</tspan></text></g>
<g id="n93" class="n"><rect x="344.1" y="2982" width="133.1" height="37.6" rx="2.5"/><text x="347.1" y="2990.7">7. 通过丰富的实例，理解众数的意义，会求<tspan x="347.1" dy="8.2">一组数据的众数，并解释结果的实际意义;根</tspan><tspan x="347.1" dy="8.2">据具体的问题，能选择适当的统计量表示数据</tspan><tspan x="347.1" dy="8.2">的不同特征。</tspan></text></g>
<g id="n94" class="n"><rect x="344.1" y="3035" width="133.1" height="21.2" rx="2.5"/><text x="347.1" y="3043.7">8. 认识复式折线统计图，能根据需要选择合<tspan x="347.1" dy="8.2">适的统计图表示数据。</tspan></text></g>
<g id="n95" class="n"><rect x="344.1" y="3071.4" width="133.1" height="37.6" rx="2.5"/><text x="347.1" y="3080.1">9. 经历从实际生活中发现问题、提出问题、<tspan x="347.1" dy="8.2">解决问题的过程，体会数学在日常生活中的作</tspan><tspan x="347.1" dy="8.2">用，初步形成综合运用数学知识解决问题的能</tspan><tspan x="347.1" dy="8.2">力。</tspan></text></g>
<g id="n96" class="n"><rect x="344.1" y="3124" width="133.1" height="37.6" rx="2.5"/><text x="347.1" y="3132.7">10. 体会解决问题策略的多样性及运用优化的<tspan x="347.1" dy="8.2">数学思想方法解决问题的有效性，感受数学的</tspan><tspan x="347.1" dy="8.2">魅力。形成发现生活中的数学的意识，初步形</tspan><tspan x="347.1" dy="8.2">成观察、分析及推理的能力。</tspan></text></g>
<g id="n97" class="n"><rect x="344.1" y="3176.9" width="133.1" height="21.2" rx="2.5"/><text x="347.1" y="3185.6">11. 体会学习数学的乐趣，提高学习数学的兴<tspan x="347.1" dy="8.2">趣，建立学好数学的信心。</tspan></text></g>
<g id="n98" class="n"><rect x="352.3" y="3217.4" width="124.9" height="13" rx="2.5"/><text x="355.3" y="3226.1">12. 养成认真作业、书写整洁的良好习惯。</text></g>
<g id="n99" class="n"><rect x="206.6" y="3212.9" width="133.4" height="21.2" rx="2.5"/><text x="209.6" y="3221.6">日常生活中的作用，初步形成综合运用数学知<tspan x="209.6" dy="8.2">识解决问题的能力。</tspan></text></g>
<g id="n100" class="n"><rect x="344.1" y="3249.4" width="133.1" height="21.2" rx="2.5"/><text x="347.1" y="3258.1">因数与倍数，长方体和正方体，分数的意义和<tspan x="347.1" dy="8.2">性质，分数的加法和减法，统计。</tspan></text></g>
<g id="n101" class="n"><rect x="331" y="3286.2" width="89.1" height="13" rx="2.5"/><text x="334" y="3294.9">1. 长方体和正方体实物及模型</text></g>
<g id="n102" class="n"><rect x="356.4" y="3314.7" width="63.7" height="13" rx="2.5"/><text x="359.4" y="3323.4">2. 演示分数用的教具</text></g>
<g id="n103" class="n"><rect x="286.6" y="3342.6" width="133.5" height="54" rx="2.5"/><text x="289.6" y="3351.3">3. 其他教具 教师还可以根据各部分教学内容<tspan x="289.6" dy="8.2">的需要自己准备或设计制作一些教具和学具。</tspan><tspan x="289.6" dy="8.2">如教学体积时制备1 m3、1dm3模型，容纳1</tspan><tspan x="289.6" dy="8.2"> L、100 ml液体的量杯;教学因数与倍数时，</tspan><tspan x="289.6" dy="8.2">可根据教科书上的图制成教具等。教师还可以</tspan><tspan x="289.6" dy="8.2">根据需要自己制作其他适用的教具。</tspan></text></g>
<g id="n104" class="n"><rect x="344.1" y="3411.1" width="133.1" height="54" rx="2.5"/><text x="347.1" y="3419.8">根据《义务教育阶段国家数学课程标准(征求<tspan x="347.1" dy="8.2">意见稿)》中的"各学段课程内容参考教学时间</tspan><tspan x="347.1" dy="8.2">一览表"，实验教材的编者为五年级下学期数</tspan><tspan x="347.1" dy="8.2">学教学安排了60课时的教学内容。各部分教</tspan><tspan x="347.1" dy="8.2">学内容教学课时大致安排如下，教师教学时可</tspan><tspan x="347.1" dy="8.2">以根据本班具体情况适当灵活掌握。</tspan></text></g>
<g id="n105" class="n"><rect x="402" y="3480.8" width="75.2" height="13" rx="2.5"/><text x="405" y="3489.5">(一)、图形的变换(4课时)</text></g>
<g id="n106" class="n"><rect x="402" y="3543.2" width="75.2" height="13" rx="2.5"/><text x="405" y="3551.9">(二)、因数与倍数(6课时)</text></g>
<g id="n107" class="n"><rect x="385.6" y="3655.6" width="91.6" height="13" rx="2.5"/><text x="388.6" y="3664.3">(三)、长方体和正方体(12课时)</text></g>
<g id="n108" class="n"><rect x="379" y="3809.9" width="98.2" height="13" rx="2.5"/><text x="382" y="3818.6">(四)、分数的意义和性质(20课时)</text></g>
<g id="n109" class="n"><rect x="380.7" y="3936.8" width="96.5" height="13" rx="2.5"/><text x="383.7" y="3945.5">(五)、分数的加法和减法 (7课时)</text></g>
<g id="n110" class="n"><rect x="420.9" y="3993.3" width="56.3" height="13" rx="2.5"/><text x="423.9" y="4002">(六)、统计(3课时)</text></g>
<g id="n111" class="n"><rect x="408.2" y="4021.5" width="69" height="13" rx="2.5"/><text x="411.2" y="4030.2">(七)、数学广角(2课时)</text></g>
<g id="n112" class="n"><rect x="414.8" y="4049.6" width="62.4" height="13" rx="2.5"/><text x="417.8" y="4058.3">(八)、总复习(4课时)</text></g>
<g id="n113" class="n"><rect x="317.4" y="3508.9" width="72.7" height="13" rx="2.5"/><text x="320.4" y="3517.6">1.因数和倍数2课时左右</text></g>
<g id="n114" class="n"><rect x="256.3" y="3537.2" width="133.8" height="21.2" rx="2.5"/><text y="3545.9"><tspan x="259.3" textLength="127.8">2.2、5、3的倍数的特征.............................3</tspan><tspan x="259.3" dy="8.2">课时左右</tspan></text></g>
<g id="n115" class="n"><rect x="256.3" y="3573.5" width="133.8" height="21.2" rx="2.5"/><text y="3582.2"><tspan x="259.3" textLength="127.8">3.质数和合数.............................................1课</tspan><tspan x="259.3" dy="8.2">时左右</tspan></text></g>
<g id="n116" class="n"><rect x="239.8" y="3609.9" width="133.5" height="21.2" rx="2.5"/><text y="3618.6"><tspan x="242.8" textLength="127.5">1.长方体和正方体的认识...............................2</tspan><tspan x="242.8" dy="8.2">课时左右</tspan></text></g>
<g id="n117" class="n"><rect x="239.8" y="3646.6" width="133.5" height="21.2" rx="2.5"/><text y="3655.3"><tspan x="242.8" textLength="127.5">2.长方体和正方体的表面积...........................2</tspan><tspan x="242.8" dy="8.2">课时左右</tspan></text></g>
<g id="n118" class="n"><rect x="239.8" y="3693" width="133.5" height="21.2" rx="2.5"/><text y="3701.7"><tspan x="242.8" textLength="127.5">3.长方体和正方体的体积.............................7</tspan><tspan x="242.8" dy="8.2">课时左右</tspan></text></g>
<g id="n119" class="n"><rect x="173.3" y="3682.5" width="54.2" height="13" rx="2.5"/><text x="176.3" y="3691.2">整理和复习1课时</text></g>
<g id="n120" class="n"><rect x="179.9" y="3710.8" width="47.6" height="13" rx="2.5"/><text x="182.9" y="3719.5">粉刷围墙1课时</text></g>
<g id="n121" class="n"><rect x="246.8" y="3739.9" width="119.9" height="13" rx="2.5"/><text x="249.8" y="3748.6" textLength="113.9">1.分数的意义................................4课时左右</text></g>
<g id="n122" class="n"><rect x="240.2" y="3767.7" width="126.5" height="13" rx="2.5"/><text x="243.2" y="3776.4" textLength="120.5">2.真分数和假分数..........................3课时左右</text></g>
<g id="n123" class="n"><rect x="240.2" y="3796" width="126.5" height="13" rx="2.5"/><text x="243.2" y="3804.7" textLength="120.5">3.分数的基本性质..........................2课时左右</text></g>
<g id="n124" class="n"><rect x="256.7" y="3824.2" width="110" height="13" rx="2.5"/><text x="259.7" y="3832.9" textLength="104">4.约分...........................................4课时左右</text></g>
<g id="n125" class="n"><rect x="256.7" y="3852.5" width="110" height="13" rx="2.5"/><text x="259.7" y="3861.2" textLength="104">5.通分...........................................4课时左右</text></g>
<g id="n126" class="n"><rect x="237" y="3880.7" width="129.7" height="13" rx="2.5"/><text x="240" y="3889.4" textLength="123.7">6.分数与小数的互化......................2课时左右</text></g>
<g id="n127" class="n"><rect x="170.4" y="3880.7" width="54.2" height="13" rx="2.5"/><text x="173.4" y="3889.4">整理和复习1课时</text></g>
<g id="n128" class="n"><rect x="235.3" y="3909" width="133.5" height="13" rx="2.5"/><text x="238.3" y="3917.7" textLength="127.5">1.同分母分数加、减法......................2课时左右</text></g>
<g id="n129" class="n"><rect x="235.3" y="3936.8" width="133.5" height="13" rx="2.5"/><text x="238.3" y="3945.5" textLength="127.5">2.异分母分数加、减法......................3课时左右</text></g>
<g id="n130" class="n"><rect x="239" y="3965" width="129.8" height="13" rx="2.5"/><text x="242" y="3973.7" textLength="123.8">3.分数加减混合运算.........................2课时左右</text></g>
<g id="n131" class="n"><rect x="304.3" y="3993.3" width="104.3" height="13" rx="2.5"/><text x="307.3" y="4002" textLength="98.3">打电话.............................................1课时</text></g>
<g id="r1" class="n"><rect x="1063.4" y="626.8" width="45.5" height="13" rx="2.5"/><text x="1066.4" y="635.5">一、学习目标</text></g>
<g id="r2" class="n"><rect x="1063.4" y="1072.5" width="45.5" height="13" rx="2.5"/><text x="1066.4" y="1081.2">二、学习设计</text></g>
<g id="r3" class="n"><rect x="1119.9" y="498.6" width="42.6" height="13" rx="2.5"/><text x="1122.9" y="507.3">(一)学习内容</text></g>
<g id="r4" class="n"><rect x="1119.9" y="563.5" width="42.6" height="13" rx="2.5"/><text x="1122.9" y="572.2">(二)核心能力</text></g>
<g id="r5" class="n"><rect x="1119.9" y="628.6" width="42.6" height="13" rx="2.5"/><text x="1122.9" y="637.3">(三)学习目标</text></g>
<g id="r6" class="n"><rect x="1119.9" y="685" width="42.6" height="13" rx="2.5"/><text x="1122.9" y="693.7">(四)学习重点</text></g>
<g id="r7" class="n"><rect x="1119.9" y="717.3" width="42.6" height="13" rx="2.5"/><text x="1122.9" y="726">(五)学习难点</text></g>
<g id="r8" class="n"><rect x="1119.9" y="753.8" width="42.6" height="13" rx="2.5"/><text x="1122.9" y="762.5">(六)配套资源</text></g>
<g id="r9" class="n"><rect x="1174.8" y="469.9" width="133.4" height="70.4" rx="2.5"/><text x="1177.8" y="478.6">"正方体的认识"是《义务教育教科书数学》(<tspan x="1177.8" dy="8.2">人教版)五年级下册第三单元第20页例3以及</tspan><tspan x="1177.8" dy="8.2">课后做一做。本节内容是在学生已经直观的认</tspan><tspan x="1177.8" dy="8.2">识了长方体、正方体等立体图形的基础上进行</tspan><tspan x="1177.8" dy="8.2">教学的。学生能通过实物或模型辨认正方体，</tspan><tspan x="1177.8" dy="8.2">知道正方体有6个面，每个面都是正方形。在</tspan><tspan x="1177.8" dy="8.2">教学正方体时，应激活经验，回顾特点，对比</tspan><tspan x="1177.8" dy="8.2">长方体特点，感知"正方体是特殊的长方体"。</tspan></text></g>
<g id="r10" class="n"><rect x="1174.8" y="555.3" width="133.4" height="29.4" rx="2.5"/><text x="1177.8" y="564">能运用迁移类推的学习方法，通过观察、操作<tspan x="1177.8" dy="8.2">，认识正方体，建立空间观念，提高分析对比</tspan><tspan x="1177.8" dy="8.2">，抽象概括的能力。</tspan></text></g>
<g id="r11" class="n"><rect x="1174.8" y="600.1" width="133.4" height="29.4" rx="2.5"/><text x="1177.8" y="608.8">1.在认识长方体的基础上，通过观察正方体、<tspan x="1177.8" dy="8.2">动手操作析正方体，自主探究正方体关于面、</tspan><tspan x="1177.8" dy="8.2">棱、顶点的特征，建立空间观念。</tspan></text></g>
<g id="r12" class="n"><rect x="1174.8" y="644.8" width="133.4" height="21.2" rx="2.5"/><text x="1177.8" y="653.5">2.通过对比分析长方体和正方体的特征，抽象<tspan x="1177.8" dy="8.2">概括出长方体和正方体之间的关系。</tspan></text></g>
<g id="r13" class="n"><rect x="1174.8" y="680.9" width="133.4" height="21.2" rx="2.5"/><text x="1177.8" y="689.6">掌握正方体的特征，理解长方体和正方体的关<tspan x="1177.8" dy="8.2">系。</tspan></text></g>
<g id="r14" class="n"><rect x="1174.8" y="717.3" width="127.1" height="13" rx="2.5"/><text x="1177.8" y="726">建立空间观念，形成立体图形的初步印象。</text></g>
<g id="r15" class="n"><rect x="1174.8" y="745.6" width="133.4" height="29.4" rx="2.5"/><text x="1177.8" y="754.3">实施资源：《正方体的认识》名师教学课件，<tspan x="1177.8" dy="8.2">各种正方体实物，长方体模型，剪好书本第1</tspan><tspan x="1177.8" dy="8.2">23页的正方体展开图。</tspan></text></g>
<g id="r16" class="n"><rect x="1119.9" y="812.7" width="42.6" height="13" rx="2.5"/><text x="1122.9" y="821.4">(一)课前设计</text></g>
<g id="r17" class="n"><rect x="1174.8" y="790.5" width="133.4" height="21.2" rx="2.5"/><text x="1177.8" y="799.2">(1)长方体的特征有哪些?我们是从几方面来认<tspan x="1177.8" dy="8.2">识它的?请自己整理出来。</tspan></text></g>
<g id="r18" class="n"><rect x="1174.8" y="827" width="133.4" height="21.2" rx="2.5"/><text x="1177.8" y="835.7">(2)请找找生活中的正方体物品，并思考：关<tspan x="1177.8" dy="8.2">于正方体你都知道了哪些知识?</tspan></text></g>
<g id="r19" class="n"><rect x="1119.9" y="1331.7" width="42.6" height="13" rx="2.5"/><text x="1122.9" y="1340.4">(二)课堂设计</text></g>
<g id="r20" class="n"><rect x="1174.8" y="912" width="36.3" height="13" rx="2.5"/><text x="1177.8" y="920.7">1.谈话导入</text></g>
<g id="r21" class="n"><rect x="1174.8" y="1339.7" width="36.3" height="13" rx="2.5"/><text x="1177.8" y="1348.4">2.问题探究</text></g>
<g id="r22" class="n"><rect x="1174.8" y="1660.5" width="36.3" height="13" rx="2.5"/><text x="1177.8" y="1669.2">3.巩固练习</text></g>
<g id="r23" class="n"><rect x="1174.8" y="1751.3" width="36.3" height="13" rx="2.5"/><text x="1177.8" y="1760">4.课堂总结</text></g>
<g id="r24" class="n"><rect x="1223.7" y="863" width="133.1" height="21.2" rx="2.5"/><text x="1226.7" y="871.7">师：课前让同学们寻找生活中的正方体物品，<tspan x="1226.7" dy="8.2">谁来和大家分享一下你找到了什么?</tspan></text></g>
<g id="r25" class="n"><rect x="1223.7" y="899.4" width="133.1" height="29.4" rx="2.5"/><text x="1226.7" y="908.1">师：生活中有许多物体的形状是正方体，正方<tspan x="1226.7" dy="8.2">体也叫立方体，这节课我们一起来认识它。板</tspan><tspan x="1226.7" dy="8.2">书课题。</tspan></text></g>
<g id="r26" class="n"><rect x="1223.7" y="944.2" width="133.1" height="37.6" rx="2.5"/><text x="1226.7" y="952.9">【设计意图：结合生活实际，学生对正方体已<tspan x="1226.7" dy="8.2">有一定的认识，因此通过分享学生在生活中找</tspan><tspan x="1226.7" dy="8.2">到的正方体，使学生对正方体有了初步的了解</tspan><tspan x="1226.7" dy="8.2">，激发了进一步学习正方体的兴趣。】</tspan></text></g>
<g id="r27" class="n"><rect x="1223.7" y="1129.5" width="71.5" height="13" rx="2.5"/><text x="1226.7" y="1138.2">(1)观察模型，探究特征</text></g>
<g id="r28" class="n"><rect x="1223.7" y="1401.7" width="84.1" height="13" rx="2.5"/><text x="1226.7" y="1410.4">(2)制作模型，加深认识特征</text></g>
<g id="r29" class="n"><rect x="1223.7" y="1549.4" width="122.4" height="13" rx="2.5"/><text x="1226.7" y="1558.1">(3)对比观察，探究长方体和正方体的关系</text></g>
<g id="r30" class="n"><rect x="1307" y="997" width="133.5" height="21.2" rx="2.5"/><text x="1310" y="1005.7">师：长方体和正方体都属于立体图形，回想一<tspan x="1310" dy="8.2">下，我们是从几方面来认识长方体的?</tspan></text></g>
<g id="r31" class="n"><rect x="1307" y="1033.7" width="73.9" height="13" rx="2.5"/><text x="1310" y="1042.4">(面、棱、顶点，长宽高)</text></g>
<g id="r32" class="n"><rect x="1307" y="1061.5" width="130.7" height="13" rx="2.5"/><text x="1310" y="1070.2">师：对于正方体，你们准备从几方面来认识?</text></g>
<g id="r33" class="n"><rect x="1307" y="1090.2" width="43.9" height="13" rx="2.5"/><text x="1310" y="1098.9">生自由发言。</text></g>
<g id="r34" class="n"><rect x="1307" y="1117.9" width="133.5" height="21.2" rx="2.5"/><text x="1310" y="1126.6">师：现在请你们借助手中的正方体物品来观察<tspan x="1310" dy="8.2">研究，看看正方体都有哪些特征?</tspan></text></g>
<g id="r35" class="n"><rect x="1307" y="1154.7" width="107.8" height="13" rx="2.5"/><text x="1310" y="1163.4">同桌合作，自主探求正方体的特征。</text></g>
<g id="r36" class="n"><rect x="1307" y="1182.6" width="133.5" height="21.2" rx="2.5"/><text x="1310" y="1191.3">交流汇报。(汇报时重在交流探究的过程和方<tspan x="1310" dy="8.2">法)</tspan></text></g>
<g id="r37" class="n"><rect x="1307" y="1257.7" width="24.9" height="13" rx="2.5"/><text x="1310" y="1266.4">预设：</text></g>
<g id="r38" class="n"><rect x="1344.5" y="1218.7" width="133.2" height="21.2" rx="2.5"/><text x="1347.5" y="1227.4">①正方体有6个面，每个面都是正方形并且6<tspan x="1347.5" dy="8.2">个面都相等;</tspan></text></g>
<g id="r39" class="n"><rect x="1344.5" y="1255.6" width="103.9" height="13" rx="2.5"/><text x="1347.5" y="1264.3">②正方体有12条棱，每条棱都相等;</text></g>
<g id="r40" class="n"><rect x="1344.5" y="1292" width="66.8" height="13" rx="2.5"/><text x="1347.5" y="1300.7">③正方体有8个顶点。</text></g>
<g id="r41" class="n"><rect x="1423.7" y="1283.7" width="133.4" height="29.4" rx="2.5"/><text x="1426.7" y="1292.4">小结：同学们从棱、面、顶点三方面进行研究<tspan x="1426.7" dy="8.2">，得出了"正方体是有6个完全相同的正方形</tspan><tspan x="1426.7" dy="8.2">围成的立体图形，12条棱长度相等"的结论。</tspan></text></g>
<g id="r42" class="n"><rect x="1320.1" y="1327.9" width="133.1" height="37.6" rx="2.5"/><text x="1323.1" y="1336.6">师：认识了正方体的特征，现在请你们动手制<tspan x="1323.1" dy="8.2">作一个正方体，制作完后，量出它的棱长是多</tspan><tspan x="1323.1" dy="8.2">少厘米，并向同桌介绍你制作的正方体的特征</tspan><tspan x="1323.1" dy="8.2">。</tspan></text></g>
<g id="r43" class="n"><rect x="1320.1" y="1380.8" width="133.1" height="21.2" rx="2.5"/><text x="1323.1" y="1389.5">用剪好的书本第123页的正方体展开图做一个<tspan x="1323.1" dy="8.2">正方体。</tspan></text></g>
<g id="r44" class="n"><rect x="1320.1" y="1417.3" width="88" height="13" rx="2.5"/><text x="1323.1" y="1426">展示学生作品分享制作感想。</text></g>
<g id="r45" class="n"><rect x="1320.1" y="1445.7" width="133.1" height="45.8" rx="2.5"/><text x="1323.1" y="1454.4">【设计意图：学完长方体后，学生已明确了面<tspan x="1323.1" dy="8.2">、棱、顶点的概念，知道了从哪些方面探究图</tspan><tspan x="1323.1" dy="8.2">形特征，因此放手让学生自主探究，充分经历</tspan><tspan x="1323.1" dy="8.2">自主探究的过程，通过观察、动手，学生亲身</tspan><tspan x="1323.1" dy="8.2">感知正方体这个立体图形。考查目标1】</tspan></text></g>
<g id="r46" class="n"><rect x="1358.4" y="1506.7" width="132.9" height="29.4" rx="2.5"/><text x="1361.4" y="1515.4">师：我们都是从面、棱、顶点来认识长方体和<tspan x="1361.4" dy="8.2">正方体，它们之间有什么相同点和不同点呢?</tspan><tspan x="1361.4" dy="8.2">请4人小组，用你们喜欢的方式整理出来。</tspan></text></g>
<g id="r47" class="n"><rect x="1358.4" y="1550.9" width="126.6" height="13" rx="2.5"/><text x="1361.4" y="1559.6">交流汇报后，教师用表格的形式进行整理。</text></g>
<g id="r48" class="n"><rect x="1358.4" y="1579.4" width="132.9" height="21.2" rx="2.5"/><text x="1361.4" y="1588.1">引导归纳长方体和正方体的关系：正方体可以<tspan x="1361.4" dy="8.2">看成是长、宽、高都相等的长方体。</tspan></text></g>
<g id="r49" class="n"><rect x="1223.7" y="1656.4" width="133.1" height="21.2" rx="2.5"/><text x="1226.7" y="1665.1">(1)第20页的做一做。用棱长为1cm的小正方<tspan x="1226.7" dy="8.2">体搭一搭。</tspan></text></g>
<g id="r50" class="n"><rect x="1369.4" y="1616" width="133.3" height="21.2" rx="2.5"/><text x="1372.4" y="1624.7">①搭一个稍大一些的正方体，至少需要多少个<tspan x="1372.4" dy="8.2">小正方体?动手试一试。</tspan></text></g>
<g id="r51" class="n"><rect x="1369.4" y="1652.2" width="133.3" height="29.4" rx="2.5"/><text x="1372.4" y="1660.9">②用12个小正方体搭一个长方体，可以有几<tspan x="1372.4" dy="8.2">种不同的搭法?记录搭的长方体的长、宽、高</tspan><tspan x="1372.4" dy="8.2">。</tspan></text></g>
<g id="r52" class="n"><rect x="1369.4" y="1696.9" width="133.3" height="21.2" rx="2.5"/><text x="1372.4" y="1705.6">③搭一个四个面是正方形的长方体，其余两个<tspan x="1372.4" dy="8.2">面有什么特点</tspan></text></g>
<g id="r53" class="n"><rect x="1223.7" y="1733.3" width="117.3" height="13" rx="2.5"/><text x="1226.7" y="1742">师：通过这节课的学习，你有什么收获?</text></g>
<g id="r54" class="n"><rect x="1223.7" y="1761" width="133.1" height="29.4" rx="2.5"/><text x="1226.7" y="1769.7">小结：从面、棱、顶点三方面认识了正方体，<tspan x="1226.7" dy="8.2">有6个面，都相等，12条棱也都相等，有8个</tspan><tspan x="1226.7" dy="8.2">顶点，正方体是特殊的长方体。</tspan></text></g>
<g id="s1" class="n"><rect x="1063.4" y="1806" width="32.4" height="13" rx="2.5"/><text x="1066.4" y="1814.7">教学目标</text></g>
<g id="s2" class="n"><rect x="1063.4" y="1862.1" width="51.4" height="13" rx="2.5"/><text x="1066.4" y="1870.8">一、知识与技能</text></g>
<g id="s3" class="n"><rect x="1063.4" y="1923" width="51.4" height="13" rx="2.5"/><text x="1066.4" y="1931.7">二、过程与方法</text></g>
<g id="s4" class="n"><rect x="1063.4" y="2036" width="70.7" height="13" rx="2.5"/><text x="1066.4" y="2044.7">三、情感态度与价值观</text></g>
<g id="s5" class="n"><rect x="1063.4" y="2165.4" width="45.5" height="13" rx="2.5"/><text x="1066.4" y="2174.1">一、复习导入</text></g>
<g id="s6" class="n"><rect x="1063.4" y="2467.3" width="45.5" height="13" rx="2.5"/><text x="1066.4" y="2476">二、新课讲授</text></g>
<g id="s7" class="n"><rect x="1063.4" y="2802.1" width="45.5" height="13" rx="2.5"/><text x="1066.4" y="2810.8">三、课堂作业</text></g>
<g id="s8" class="n"><rect x="1063.4" y="2848.2" width="45.5" height="13" rx="2.5"/><text x="1066.4" y="2856.9">四、课堂小结</text></g>
<g id="s9" class="n"><rect x="1126.6" y="1834.2" width="107" height="13" rx="2.5"/><text x="1129.6" y="1842.9">1.认识正方体，掌握正方体的特征。</text></g>
<g id="s10" class="n"><rect x="1126.6" y="1862.3" width="113.4" height="13" rx="2.5"/><text x="1129.6" y="1871">2.理解长方体与正方体的联系与区别。</text></g>
<g id="s11" class="n"><rect x="1126.6" y="1890.3" width="56.1" height="13" rx="2.5"/><text x="1129.6" y="1899">3.发展空间观念。</text></g>
<g id="s12" class="n"><rect x="1126.6" y="1918.9" width="133.4" height="21.2" rx="2.5"/><text x="1129.6" y="1927.6">经历观察实物和动手操作等活动，掌握正方体<tspan x="1129.6" dy="8.2">的特征。</tspan></text></g>
<g id="s13" class="n"><rect x="1146" y="1955.2" width="133" height="21.2" rx="2.5"/><text x="1149" y="1963.9">体验合作探究的乐趣，感受数学与生活的联系<tspan x="1149" dy="8.2">，培养学生的创新意识。</tspan></text></g>
<g id="s14" class="n"><rect x="1146" y="1992" width="88.4" height="13" rx="2.5"/><text x="1149" y="2000.7">教学重点掌握正方体的特征。</text></g>
<g id="s15" class="n"><rect x="1146" y="2019.7" width="114" height="13" rx="2.5"/><text x="1149" y="2028.4">教学难点理解长方体和正方体的关系。</text></g>
<g id="s16" class="n"><rect x="1146" y="2047.8" width="133" height="21.2" rx="2.5"/><text x="1149" y="2056.5">教学准备正方体纸盒、长方体和正方体对比教<tspan x="1149" dy="8.2">具、多媒体课件。</tspan></text></g>
<g id="s17" class="n"><rect x="1146" y="2084.6" width="54" height="13" rx="2.5"/><text x="1149" y="2093.3">课时安排1课时。</text></g>
<g id="s18" class="n"><rect x="1146" y="2112.7" width="31.1" height="13" rx="2.5"/><text x="1149" y="2121.4">教学过程</text></g>
<g id="s19" class="n"><rect x="1120.3" y="2140.6" width="133.4" height="21.2" rx="2.5"/><text x="1123.3" y="2149.3">1.回忆长方体的特征，请学生用语言进行描述<tspan x="1123.3" dy="8.2">。</tspan></text></g>
<g id="s20" class="n"><rect x="1120.3" y="2177.1" width="133.4" height="29.4" rx="2.5"/><text x="1123.3" y="2185.8">2.操作：同桌交流，分别说出长方体的棱有几<tspan x="1123.3" dy="8.2">条?可以分别分成几组?相交于同一个顶点的三</tspan><tspan x="1123.3" dy="8.2">条棱叫做什么?</tspan></text></g>
<g id="s21" class="n"><rect x="1266" y="2181.7" width="133" height="21.2" rx="2.5"/><text x="1269" y="2190.4">师：今天这节课，我们继续学习一种特殊的立<tspan x="1269" dy="8.2">体图形。</tspan></text></g>
<g id="s22" class="n"><rect x="1120.3" y="2282.6" width="68.3" height="13" rx="2.5"/><text x="1123.3" y="2291.3">1.探索正方体的特征。</text></g>
<g id="s23" class="n"><rect x="1120.3" y="2371.1" width="43.4" height="13" rx="2.5"/><text x="1123.3" y="2379.8">2.合作学习。</text></g>
<g id="s24" class="n"><rect x="1120.3" y="2451.2" width="43.4" height="13" rx="2.5"/><text x="1123.3" y="2459.9">3.集体交流。</text></g>
<g id="s25" class="n"><rect x="1120.3" y="2652" width="113.3" height="13" rx="2.5"/><text x="1123.3" y="2660.7">4.教学正方体和长方体的联系与区别：</text></g>
<g id="s26" class="n"><rect x="1200.8" y="2221.9" width="133.5" height="13" rx="2.5"/><text x="1203.8" y="2230.6">学生拿出准备好的正方体纸盒，观察并思考。</text></g>
<g id="s27" class="n"><rect x="1200.8" y="2249.9" width="86.1" height="13" rx="2.5"/><text x="1203.8" y="2258.6">师：这些都叫什么立体图形?</text></g>
<g id="s28" class="n"><rect x="1200.8" y="2278" width="56.9" height="13" rx="2.5"/><text x="1203.8" y="2286.7">生：都是正方体。</text></g>
<g id="s29" class="n"><rect x="1200.8" y="2306.1" width="133.5" height="21.2" rx="2.5"/><text x="1203.8" y="2314.8">师：要探究正方体具有什么特征，我们应该从<tspan x="1203.8" dy="8.2">哪方面去思考?</tspan></text></g>
<g id="s30" class="n"><rect x="1200.8" y="2342.5" width="95.6" height="13" rx="2.5"/><text x="1203.8" y="2351.2">生：从面、棱、顶点这三个方面</text></g>
<g id="s31" class="n"><rect x="1176" y="2371.1" width="133" height="13" rx="2.5"/><text x="1179" y="2379.8">学生根据手中的正方体学具，小组合作探究。</text></g>
<g id="s32" class="n"><rect x="1176" y="2399.2" width="133" height="21.2" rx="2.5"/><text x="1179" y="2407.9">(1)组：正方体有6个面，6个面大小都相等，<tspan x="1179" dy="8.2">6个面都是正方形。</tspan></text></g>
<g id="s33" class="n"><rect x="1176" y="2435.5" width="133" height="21.2" rx="2.5"/><text x="1179" y="2444.2">(2)组：正方体有12条棱，正方体的12条棱的<tspan x="1179" dy="8.2">长度相等。</tspan></text></g>
<g id="s34" class="n"><rect x="1176" y="2498.4" width="80.9" height="13" rx="2.5"/><text x="1179" y="2507.1">(3)组：正方体有8个顶点。</text></g>
<g id="s35" class="n"><rect x="1269.2" y="2472.1" width="133.4" height="29.4" rx="2.5"/><text x="1272.2" y="2480.8">请学生到讲台前，手指正方体模型，按"面、<tspan x="1272.2" dy="8.2">棱、顶点"的特征有序地数一数，摸一摸，其</tspan><tspan x="1272.2" dy="8.2">他同学观察思考。</tspan></text></g>
<g id="s36" class="n"><rect x="1269.2" y="2516.5" width="111.2" height="13" rx="2.5"/><text x="1272.2" y="2525.2">师：怎样判断一个图形是不是正方体?</text></g>
<g id="s37" class="n"><rect x="1245.4" y="2544.6" width="133.9" height="21.2" rx="2.5"/><text x="1248.4" y="2553.3">老师出示一个正方体教具。请学生讨论：它是<tspan x="1248.4" dy="8.2">不是一个长方体?</tspan></text></g>
<g id="s38" class="n"><rect x="1245.4" y="2581.4" width="95.2" height="13" rx="2.5"/><text x="1248.4" y="2590.1">学生充分讨论，集体交换意见。</text></g>
<g id="s39" class="n"><rect x="1245.4" y="2609.6" width="133.9" height="21.2" rx="2.5"/><text x="1248.4" y="2618.3">学生甲组：这个物体的六个面都是正方形，它<tspan x="1248.4" dy="8.2">不是长方体。</tspan></text></g>
<g id="s40" class="n"><rect x="1245.4" y="2645.9" width="133.9" height="29.4" rx="2.5"/><text x="1248.4" y="2654.6">学生乙组：长方体6个面是对面的面积相等，<tspan x="1248.4" dy="8.2">而这个物体是6个面的面积相等。所以我们也</tspan><tspan x="1248.4" dy="8.2">认为它不是长方体。</tspan></text></g>
<g id="s41" class="n"><rect x="1245.4" y="2690.6" width="133.9" height="45.8" rx="2.5"/><text x="1248.4" y="2699.3">学生丙组：我们组有不同意见，因为我们认为<tspan x="1248.4" dy="8.2">它的6个面虽然都是正方形，但是正方形是特</tspan><tspan x="1248.4" dy="8.2">殊的长方形，它的12条棱也包括每组4条棱长</tspan><tspan x="1248.4" dy="8.2">度相等;6个面面积相等，也包括了相对的面面</tspan><tspan x="1248.4" dy="8.2">积相等这些条件，所以我们认为它是长方体。</tspan></text></g>
<g id="s42" class="n"><rect x="1245.4" y="2751.5" width="133.9" height="21.2" rx="2.5"/><text x="1248.4" y="2760.2">师：我们把长、宽、高都相等的长方体叫做正<tspan x="1248.4" dy="8.2">方体或者叫立方体。</tspan></text></g>
<g id="s43" class="n"><rect x="1120.3" y="2788" width="81.3" height="13" rx="2.5"/><text x="1123.3" y="2796.7">1.教材第20页的"做一做"。</text></g>
<g id="s44" class="n"><rect x="1120.3" y="2816.2" width="128.7" height="13" rx="2.5"/><text x="1123.3" y="2824.9">2.教材第21~22练习五的第4、5、8、9题。</text></g>
<g id="s45" class="n"><rect x="1120.3" y="2844" width="133.4" height="21.2" rx="2.5"/><text x="1123.3" y="2852.7">今天这节课，大家有什么收获?(学生畅所欲言<tspan x="1123.3" dy="8.2">谈收获，教师将学生的发言进行总结)</tspan></text></g>
<g id="t1" class="n"><rect x="1063.4" y="2880.8" width="117.7" height="13" rx="2.5"/><text x="1066.4" y="2889.5">★ 2021苏教版五年级数学单元教案模板</text></g>
<g id="t2" class="n"><rect x="1063.4" y="2909" width="130.3" height="13" rx="2.5"/><text x="1066.4" y="2917.7">★ 苏教版小学五年级下册数学教案2021范文</text></g>
<g id="t3" class="n"><rect x="1063.4" y="2937.1" width="115.3" height="13" rx="2.5"/><text x="1066.4" y="2945.8">★ 最新五年级数学上册五年级教案文案</text></g>
<g id="t4" class="n"><rect x="1063.4" y="2965.3" width="58.1" height="13" rx="2.5"/><text x="1066.4" y="2974">★ 五年级数学教案</text></g>
<g id="t5" class="n"><rect x="1063.4" y="2993.4" width="117.7" height="13" rx="2.5"/><text x="1066.4" y="3002.1">★ 2021人教版五年级下册数学教案例文</text></g>
<g id="t6" class="n"><rect x="1063.4" y="3021.6" width="130.3" height="13" rx="2.5"/><text x="1066.4" y="3030.3">★ 苏教版一年级数学表格下册教案2021模板</text></g>
<g id="t7" class="n"><rect x="1063.4" y="3049.7" width="130.3" height="13" rx="2.5"/><text x="1066.4" y="3058.4">★ 苏教版小学五年级数学上册教案2021最新</text></g>
<g id="t8" class="n"><rect x="1063.4" y="3077.9" width="124" height="13" rx="2.5"/><text x="1066.4" y="3086.6">★ 2021义务教育五年级数学上册教案文案</text></g>
<g id="t9" class="n"><rect x="1063.4" y="3106" width="105.1" height="13" rx="2.5"/><text x="1066.4" y="3114.7">★ 2021苏教版数学四年级教案模板</text></g>
<g id="t10" class="n"><rect x="1063.4" y="3134.2" width="124" height="13" rx="2.5"/><text x="1066.4" y="3142.9">★ 2021一年级上册数学第四单元教案模板</text></g>
</svg>
